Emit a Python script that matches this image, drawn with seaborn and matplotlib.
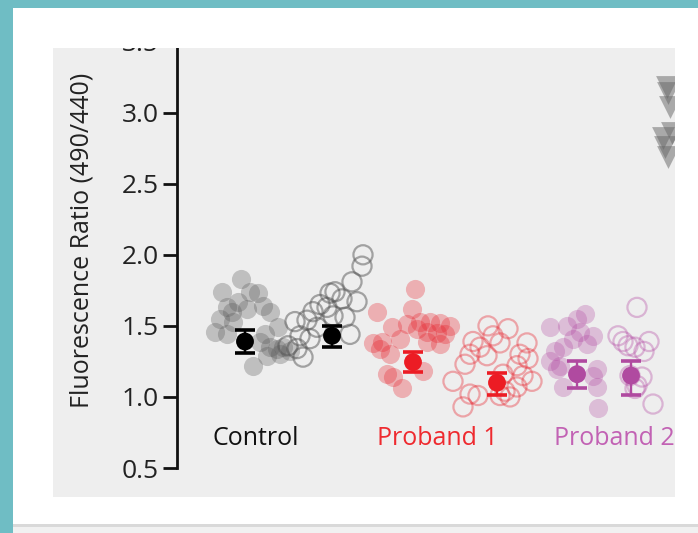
import matplotlib
matplotlib.use("Agg")
import matplotlib.pyplot as plt
from matplotlib.patches import Rectangle
import seaborn as sns
import pandas as pd

# ---- data: strip position (horizontal) and fluorescence ratio per cell ----
control_fill_pos = [64, 45, 73, 81, 50, 61, 55, 70, 86, 93, 43, 56, 38, 50, 101, 88, 83, 93, 100, 106, 76, 90, 103, 113]
control_fill_val = [1.83, 1.74, 1.74, 1.73, 1.63, 1.67, 1.60, 1.62, 1.64, 1.60, 1.55, 1.53, 1.46, 1.44, 1.49, 1.44,
                    1.39, 1.35, 1.34, 1.35, 1.22, 1.29, 1.30, 1.32]
control_open_pos = [186, 185, 175, 158, 153, 165, 180, 143, 136, 150, 168, 156, 118, 130, 173, 140, 123, 133, 120, 126, 111]
control_open_val = [2.00, 1.92, 1.81, 1.74, 1.73, 1.69, 1.67, 1.65, 1.60, 1.63, 1.56, 1.57, 1.53, 1.54, 1.44, 1.49,
                    1.43, 1.41, 1.34, 1.28, 1.36]

p1_fill_pos = [238, 200, 235, 215, 230, 243, 253, 263, 273, 240, 250, 260, 268, 205, 223, 263, 250, 203, 213, 210, 246, 216, 225, 196]
p1_fill_val = [1.76, 1.60, 1.62, 1.49, 1.51, 1.53, 1.53, 1.52, 1.50, 1.48, 1.46, 1.45, 1.44, 1.39, 1.41, 1.37,
               1.39, 1.34, 1.30, 1.16, 1.18, 1.14, 1.06, 1.38]
p1_open_pos = [311, 331, 296, 316, 350, 303, 323, 293, 310, 343, 288, 340, 351, 276, 326, 346, 355, 340, 293, 301, 328, 333, 286, 323]
p1_open_val = [1.50, 1.48, 1.39, 1.43, 1.38, 1.35, 1.38, 1.30, 1.29, 1.30, 1.23, 1.22, 1.27, 1.11, 1.16, 1.15,
               1.11, 1.07, 1.02, 1.01, 1.04, 1.00, 0.93, 1.01]

p2_fill_pos = [408, 400, 373, 390, 403, 416, 396, 410, 378, 386, 373, 383, 420, 416, 386, 420, 421, 380]
p2_fill_val = [1.58, 1.55, 1.49, 1.50, 1.46, 1.43, 1.41, 1.37, 1.32, 1.35, 1.25, 1.22, 1.20, 1.15, 1.07, 1.07, 0.92, 1.20]
p2_open_pos = [460, 441, 446, 472, 458, 451, 467, 453, 465, 460, 476, 458]
p2_open_val = [1.63, 1.43, 1.39, 1.39, 1.35, 1.36, 1.32, 1.15, 1.14, 1.08, 0.95, 1.06]

tri_pos = [490, 491, 493, 486, 488, 491, 495]
tri_val = [3.18, 3.14, 3.04, 2.82, 2.76, 2.69, 2.86]

# group means with error bars
mean_pos = [68, 155, 236, 320, 400, 454]
mean_val = [1.39, 1.43, 1.245, 1.10, 1.16, 1.15]
err_lo = [1.31, 1.35, 1.175, 1.015, 1.06, 1.015]
err_hi = [1.47, 1.50, 1.315, 1.17, 1.25, 1.25]

categories = ["Control", "Proband 1", "Proband 2"]
category_pos = [79, 260, 437]

yticks = [0.5, 1.0, 1.5, 2.0, 2.5, 3.0, 3.5]

# ---- colours ----
GREY = "#555555"
RED = "#e8202a"
PURPLE = "#b44ca5"
mean_colors = ["#000000", "#000000", "#ec1c24", "#ec1c24", "#b04aa0", "#b04aa0"]
label_colors = ["#111111", "#ee2a2f", "#c262b4"]

sns.set_theme(style="white")
plt.rcParams["font.family"] = ["Open Sans", "DejaVu Sans"]

fig = plt.figure(figsize=(6.98, 5.33), dpi=100)
fig.patch.set_facecolor("#6fbdc4")

W, H = 698.0, 533.0


def fig_rect(x0, y0, x1, y1, color, z):
    """Rectangle given in pixel coordinates measured from the top-left corner."""
    r = Rectangle((x0 / W, 1 - y1 / H), (x1 - x0) / W, (y1 - y0) / H,
                  transform=fig.transFigure, facecolor=color, edgecolor="none", zorder=z)
    fig.add_artist(r)


# card and panel background
fig_rect(13, 8, 698, 524, "white", -3)
fig_rect(13, 524, 698, 527, "#d9d9d9", -3)
fig_rect(13, 527, 698, 533, "#f1f1f1", -3)
fig_rect(53, 48, 675, 497, "#eeeeee", -2)

ax = fig.add_axes([177 / W, 65 / H, 498 / W, 426.4 / H])
ax.set_facecolor("none")
ax.set_xlim(0, 498)
ax.set_ylim(0.5, 3.5)

def points(pos, val):
    return pd.DataFrame({"pos": pos, "ratio": val})

MS = 190
# filled circles
for pos, val, col in [(control_fill_pos, control_fill_val, GREY),
                      (p1_fill_pos, p1_fill_val, RED),
                      (p2_fill_pos, p2_fill_val, PURPLE)]:
    sns.scatterplot(data=points(pos, val), x="pos", y="ratio", ax=ax, s=MS,
                    color=col, alpha=0.3, linewidth=0, zorder=2)

# open circles
for pos, val, col, a in [(control_open_pos, control_open_val, GREY, 0.5),
                         (p1_open_pos, p1_open_val, RED, 0.36),
                         (p2_open_pos, p2_open_val, PURPLE, 0.36)]:
    sns.scatterplot(data=points(pos, val), x="pos", y="ratio", ax=ax, s=MS,
                    color=col, facecolors="none", edgecolor=col, linewidth=1.6,
                    alpha=a, zorder=2)

# triangles of the next group
sns.scatterplot(data=points(tri_pos, tri_val), x="pos", y="ratio", ax=ax, s=270,
                marker="v", color="#666666", alpha=0.5, linewidth=0, zorder=2)

# means with error bars
for xp, m, lo, hi, c in zip(mean_pos, mean_val, err_lo, err_hi, mean_colors):
    ax.errorbar([xp], [m], yerr=[[m - lo], [hi - m]], fmt="none", ecolor=c,
                elinewidth=1.7, capsize=7.5, capthick=2.6, zorder=4)
sns.scatterplot(x=mean_pos, y=mean_val, hue=list(range(len(mean_pos))),
                palette=mean_colors, legend=False, ax=ax, s=165, linewidth=0, zorder=5)

# category labels
for name, xp, c in zip(categories, category_pos, label_colors):
    ax.text(xp, 0.705, name, color=c, fontsize=18, ha="center", va="center",
            clip_on=True, zorder=6)

# axes styling
for side in ["top", "right", "bottom"]:
    ax.spines[side].set_visible(False)
ax.spines["left"].set_linewidth(2)
ax.spines["left"].set_color("#111111")
ax.set_xticks([])
ax.set_yticks(yticks)
ax.set_yticklabels([f"{t:.1f}" for t in yticks])
ax.tick_params(axis="y", length=10, width=2, color="#111111", labelsize=19,
               labelcolor="#222222", pad=3, left=True)
ax.set_xlabel("")
ax.set_ylabel("Fluorescence Ratio (490/440)", fontsize=18, color="#222222")
ax.yaxis.set_label_coords(-0.165, 0.535)

# cut the panel off at its top and right edges
fig_rect(13, 8, 698, 48, "white", 10)
fig_rect(675, 8, 698, 524, "white", 10)

fig.savefig("out.png", dpi=100, facecolor=fig.get_facecolor())
